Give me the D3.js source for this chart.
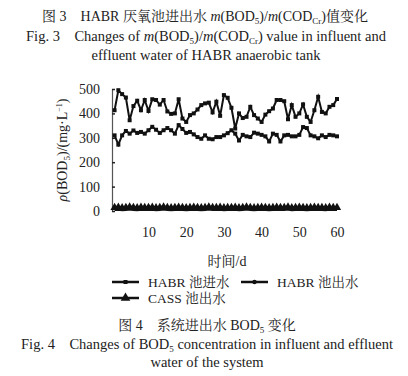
<!DOCTYPE html>
<html>
<head>
<meta charset="utf-8">
<script src="https://cdn.jsdelivr.net/npm/d3@7"></script>
<style>
  body { margin: 0; background: #fff; }
  svg { font-family: "Liberation Serif", "Noto Serif CJK SC", "Noto Sans CJK SC", serif; fill: #222; }
  svg text { white-space: pre; }
</style>
</head>
<body>
<div id="chart"></div>
<script>
// Chart size, the same as the window
const WIDTH = 408;
const HEIGHT = 376;

// Data (mg/L, days 1..60)
const days = d3.range(1, 61);
const habrIn = [413, 495, 479, 465, 372, 430, 452, 413, 455, 410,
  458, 455, 436, 455, 408, 398, 400, 458, 379, 365,
  393, 400, 416, 434, 441, 444, 404, 448, 390, 475,
  464, 423, 338, 400, 381, 386, 427, 393, 379, 365,
  395, 409, 420, 455, 455, 450, 376, 434, 386, 400,
  437, 386, 365, 413, 468, 406, 400, 427, 434, 459];
const habrOut = [310, 272, 310, 328, 317, 330, 320, 324, 317, 331,
  345, 333, 320, 331, 340, 331, 317, 352, 336, 320,
  324, 314, 303, 296, 310, 296, 294, 303, 303, 310,
  319, 331, 317, 289, 312, 306, 303, 321, 317, 312,
  306, 285, 317, 312, 285, 310, 312, 306, 306, 312,
  344, 340, 310, 306, 298, 310, 303, 312, 310, 306];
const cassOut = [10, 11, 9, 10, 12, 10, 9, 11, 10, 10,
  11, 9, 10, 12, 10, 9, 10, 11, 10, 9,
  10, 11, 10, 9, 10, 12, 10, 10, 11, 9,
  10, 10, 11, 9, 10, 12, 10, 9, 10, 11,
  10, 9, 10, 11, 10, 10, 12, 9, 10, 11,
  10, 9, 10, 11, 10, 10, 9, 11, 10, 10];
const yTicks = [0, 100, 200, 300, 400, 500];
const xTicks = [10, 20, 30, 40, 50, 60];
const legendNames = ['HABR 池进水', 'HABR 池出水', 'CASS 池出水'];

const svg = d3.select('#chart')
  .append('svg')
  .attr('width', WIDTH)
  .attr('height', HEIGHT);

// helper: subscript tspans
function sub (t, s) {
  t.append('tspan').attr('font-size', 9).attr('dy', 3).text(s);
  return t.append('tspan').attr('dy', -3);
}

// top caption (Fig. 3 tail)
const capTop = svg.append('g').attr('text-anchor', 'middle').attr('font-size', 14.5);
const t1 = capTop.append('text').attr('x', 205).attr('y', 21).attr('font-size', 14);
t1.append('tspan').text('图 3    HABR 厌氧池进出水 ');
t1.append('tspan').attr('font-style', 'italic').text('m');
t1.append('tspan').text('(BOD');
sub(t1, '5').text(')/');
t1.append('tspan').attr('font-style', 'italic').text('m');
t1.append('tspan').text('(COD');
sub(t1, 'Cr').text(')值变化');

const t2 = capTop.append('text').attr('x', 206).attr('y', 41);
t2.append('tspan').text('Fig. 3    Changes of ');
t2.append('tspan').attr('font-style', 'italic').text('m');
t2.append('tspan').text('(BOD');
sub(t2, '5').text(')/');
t2.append('tspan').attr('font-style', 'italic').text('m');
t2.append('tspan').text('(COD');
sub(t2, 'Cr').text(') value in influent and');

capTop.append('text').attr('x', 206).attr('y', 60)
  .text('effluent water of HABR anaerobic tank');

// scales
const x = d3.scaleLinear().domain([0, 60]).range([110.8, 337]);
const y = d3.scaleLinear().domain([0, 500]).range([211, 89]);

// y axis, ticks point inside
const yAxis = svg.append('g')
  .attr('transform', 'translate(112,0)')
  .call(d3.axisRight(y).tickValues(yTicks).tickSize(3).tickFormat(d3.format('d')));
yAxis.select('.domain').attr('stroke', '#555').attr('stroke-width', 1.2);
yAxis.selectAll('.tick line').attr('stroke', '#222').attr('stroke-width', 1.5);
yAxis.selectAll('.tick text')
  .attr('x', -12)
  .attr('text-anchor', 'end')
  .attr('font-size', 14)
  .attr('font-family', 'Liberation Serif')
  .attr('fill', '#222');

// x axis: labels only
const xAxis = svg.append('g')
  .attr('transform', 'translate(0,211)')
  .call(d3.axisBottom(x).tickValues(xTicks).tickSize(0).tickPadding(16));
xAxis.select('.domain').remove();
xAxis.selectAll('.tick text')
  .attr('font-size', 14)
  .attr('font-family', 'Liberation Serif')
  .attr('fill', '#222');

// axis titles
svg.append('text')
  .attr('x', 227).attr('y', 266)
  .attr('text-anchor', 'middle')
  .attr('font-size', 14)
  .text('时间/d');

const yl = svg.append('text')
  .attr('transform', 'translate(67,150) rotate(-90)')
  .attr('text-anchor', 'middle')
  .attr('font-size', 14);
yl.append('tspan').attr('font-style', 'italic').text('ρ');
yl.append('tspan').text('(BOD');
sub(yl, '5').text(')/(mg·L');
yl.append('tspan').attr('font-size', 8).attr('dy', -5).text('−1');
yl.append('tspan').attr('dy', 5).text(')');

// series
const series = [
  { values: habrIn, shape: d3.symbolSquare, size: 16 },
  { values: habrOut, shape: d3.symbolSquare, size: 16 },
  { values: cassOut, shape: d3.symbolTriangle, size: 30 }
];

const line = d3.line()
  .x((d, i) => x(days[i]))
  .y(d => y(d));

series.forEach(s => {
  const g = svg.append('g');
  g.append('path')
    .datum(s.values)
    .attr('d', line)
    .attr('fill', 'none')
    .attr('stroke', '#111')
    .attr('stroke-width', s.shape === d3.symbolTriangle ? 5 : 2);
  g.selectAll('path.mark')
    .data(s.values)
    .join('path')
    .attr('class', 'mark')
    .attr('transform', (d, i) => `translate(${x(days[i])},${y(d) - (s.shape === d3.symbolTriangle ? 1 : 0)})`)
    .attr('d', d3.symbol().type(s.shape).size(s.size))
    .attr('fill', '#111');
});

// legend
const legendPos = [[112, 282], [241, 282], [112, 298]];
const legendShapes = [d3.symbolSquare, d3.symbolCircle, d3.symbolTriangle];
legendNames.forEach((name, i) => {
  const [lx, ly] = legendPos[i];
  const g = svg.append('g').attr('transform', `translate(${lx},${ly})`);
  g.append('line')
    .attr('x1', 0).attr('x2', 27)
    .attr('y1', 0).attr('y2', 0)
    .attr('stroke', '#111').attr('stroke-width', 2.5);
  g.append('path')
    .attr('transform', 'translate(13.5,0)')
    .attr('d', d3.symbol().type(legendShapes[i]).size(i === 2 ? 40 : 16))
    .attr('fill', '#111');
  g.append('text')
    .attr('x', 36).attr('y', 5)
    .attr('font-size', 13.5)
    .text(name);
});

// bottom caption (Fig. 4)
const capBot = svg.append('g').attr('text-anchor', 'middle').attr('font-size', 14.5);
const b1 = capBot.append('text').attr('x', 207).attr('y', 330).attr('font-size', 14);
b1.append('tspan').text('图 4    系统进出水 BOD');
sub(b1, '5').text(' 变化');

const b2 = capBot.append('text').attr('x', 207).attr('y', 349);
b2.append('tspan').text('Fig. 4    Changes of BOD');
sub(b2, '5').text(' concentration in influent and effluent');

capBot.append('text').attr('x', 207).attr('y', 367)
  .text('water of the system');
</script>
</body>
</html>
